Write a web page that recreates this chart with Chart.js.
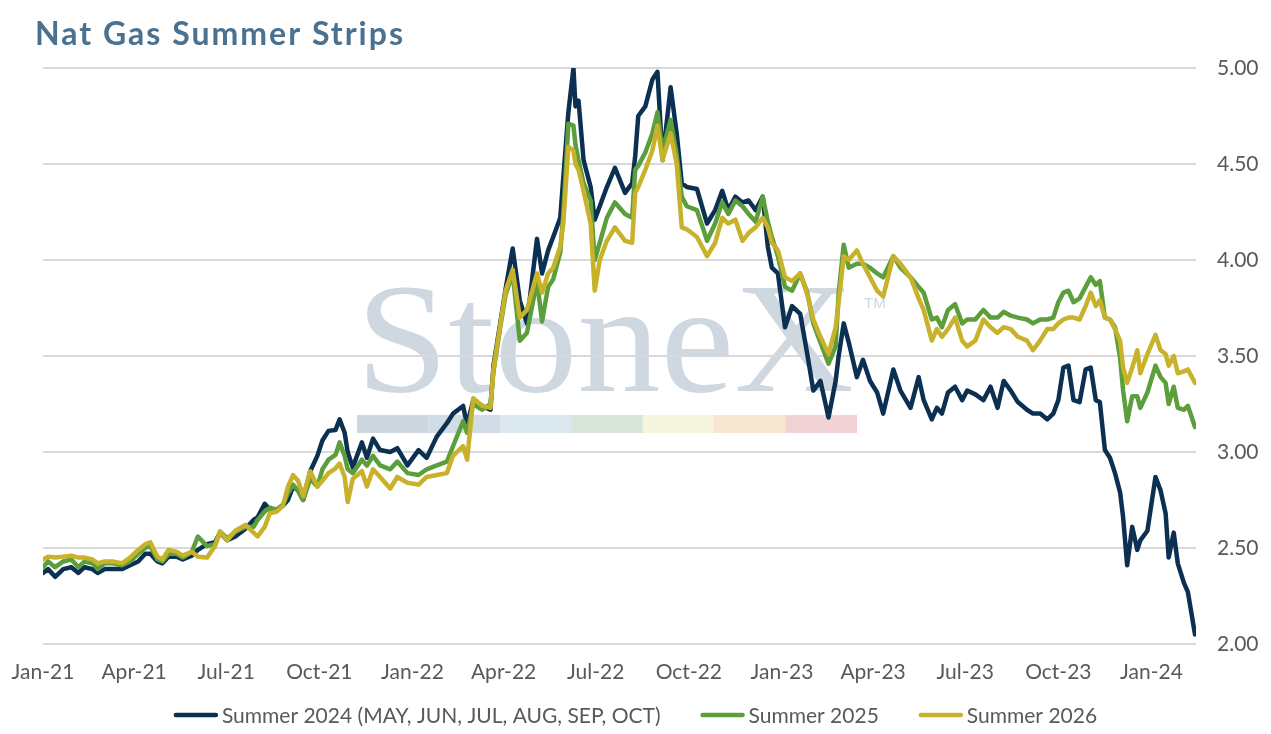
<!DOCTYPE html>
<html>
<head>
<meta charset="utf-8">
<script src="https://cdn.jsdelivr.net/npm/chart.js@4.4.1/dist/chart.umd.min.js"></script>
<style>
  html, body { margin: 0; padding: 0; background: #fff; }
  #wrap { width: 1271px; height: 734px; position: relative; }
</style>
</head>
<body>
<div id="wrap"><canvas id="gasChart"></canvas></div>
<script>
// ===============================
// Data (days counted from 1 Jan 2021)
// ===============================
const days = [
  0, 5, 12, 20, 28, 35, 41, 49, 54, 61, 69, 78, 86, 94, 101, 106, 113, 118, 124, 132,
  138, 147, 153, 162, 170, 175, 182, 190, 200, 208, 212, 219, 224, 231, 237, 242, 247, 252, 257, 264,
  271, 276, 282, 289, 293, 298, 301, 306, 315, 320, 326, 333, 343, 350, 360, 371, 379, 389, 399, 405,
  415, 419, 425, 434, 442, 445, 452, 457, 464, 471, 478, 488, 493, 499, 504, 511, 514, 519, 524, 526,
  529, 534, 541, 545, 550, 557, 565, 575, 582, 585, 588, 595, 602, 607, 612, 620, 626, 631, 636, 646,
  656, 664, 671, 677, 684, 691, 697, 704, 711, 716, 720, 726, 733, 740, 748, 755, 761, 768, 776, 783,
  786, 791, 796, 804, 810, 817, 824, 830, 840, 847, 857, 865, 870, 878, 883, 888, 894, 901, 908, 913,
  921, 929, 936, 943, 949, 956, 963, 972, 978, 985, 992, 998, 1003, 1008, 1013, 1018, 1024, 1030, 1035, 1040,
  1044, 1049, 1054, 1059, 1064, 1067, 1071, 1076, 1081, 1084, 1091, 1099, 1104, 1109, 1112, 1117, 1121, 1127, 1131, 1138
];

const summer2024 = [
  2.37, 2.39, 2.35, 2.39, 2.40, 2.37, 2.40, 2.39, 2.37, 2.39, 2.39, 2.39, 2.41, 2.43, 2.47, 2.47, 2.43, 2.42, 2.455, 2.455,
  2.44, 2.46, 2.49, 2.52, 2.53, 2.58, 2.54, 2.56, 2.60, 2.646, 2.66, 2.73, 2.70, 2.70, 2.72, 2.75, 2.82, 2.80, 2.75, 2.90,
  2.98, 3.06, 3.11, 3.115, 3.17, 3.10, 3.00, 2.92, 3.05, 2.97, 3.07, 3.01, 3.00, 3.02, 2.93, 3.01, 2.97, 3.08, 3.15, 3.20,
  3.24, 3.14, 3.27, 3.24, 3.22, 3.45, 3.68, 3.85, 4.06, 3.79, 3.67, 4.11, 3.93, 4.05, 4.12, 4.22, 4.43, 4.77, 5.00, 4.80,
  4.83, 4.52, 4.38, 4.21, 4.28, 4.38, 4.48, 4.35, 4.40, 4.54, 4.75, 4.80, 4.94, 4.98, 4.52, 4.90, 4.66, 4.40, 4.38, 4.37,
  4.19, 4.26, 4.36, 4.26, 4.33, 4.30, 4.31, 4.26, 4.33, 4.07, 3.96, 3.93, 3.65, 3.76, 3.72, 3.51, 3.32, 3.37, 3.18, 3.37,
  3.50, 3.67, 3.57, 3.39, 3.48, 3.37, 3.31, 3.20, 3.43, 3.32, 3.23, 3.39, 3.27, 3.17, 3.23, 3.20, 3.31, 3.34, 3.27, 3.32,
  3.30, 3.27, 3.34, 3.23, 3.37, 3.32, 3.26, 3.22, 3.20, 3.20, 3.17, 3.20, 3.27, 3.44, 3.45, 3.27, 3.26, 3.43, 3.44, 3.27,
  3.26, 3.01, 2.97, 2.89, 2.79, 2.66, 2.41, 2.61, 2.49, 2.54, 2.59, 2.87, 2.80, 2.68, 2.45, 2.58, 2.42, 2.32, 2.27, 2.05
];

const summer2025 = [
  2.40, 2.43, 2.40, 2.43, 2.44, 2.40, 2.43, 2.42, 2.39, 2.42, 2.42, 2.41, 2.43, 2.47, 2.50, 2.51, 2.44, 2.43, 2.47, 2.47,
  2.45, 2.48, 2.56, 2.51, 2.52, 2.585, 2.55, 2.585, 2.61, 2.61, 2.646, 2.69, 2.71, 2.70, 2.725, 2.785, 2.83, 2.80, 2.75, 2.86,
  2.82, 2.91, 2.96, 2.985, 3.05, 2.98, 2.91, 2.89, 2.96, 2.93, 2.98, 2.93, 2.91, 2.95, 2.89, 2.88, 2.91, 2.93, 2.95, 3.03,
  3.16, 3.10, 3.25, 3.22, 3.25, 3.42, 3.66, 3.82, 3.93, 3.58, 3.62, 3.89, 3.68, 3.86, 3.90, 4.04, 4.24, 4.71, 4.70, 4.60,
  4.52, 4.40, 4.31, 4.00, 4.09, 4.22, 4.30, 4.24, 4.22, 4.47, 4.49, 4.56, 4.66, 4.77, 4.57, 4.73, 4.55, 4.33, 4.28, 4.26,
  4.10, 4.19, 4.30, 4.24, 4.31, 4.28, 4.24, 4.20, 4.33, 4.20, 4.12, 4.02, 3.86, 3.84, 3.93, 3.83, 3.67, 3.57, 3.46, 3.55,
  3.83, 4.08, 3.96, 3.98, 3.98, 3.96, 3.93, 3.91, 4.02, 3.96, 3.91, 3.86, 3.83, 3.69, 3.70, 3.65, 3.74, 3.77, 3.67, 3.69,
  3.69, 3.74, 3.70, 3.70, 3.73, 3.71, 3.70, 3.69, 3.67, 3.69, 3.69, 3.70, 3.78, 3.83, 3.84, 3.78, 3.80, 3.86, 3.91, 3.87,
  3.89, 3.70, 3.69, 3.65, 3.49, 3.32, 3.16, 3.29, 3.29, 3.23, 3.31, 3.45, 3.39, 3.36, 3.25, 3.34, 3.23, 3.22, 3.24, 3.13
];

const summer2026 = [
  2.44, 2.455, 2.45, 2.455, 2.46, 2.45, 2.45, 2.44, 2.42, 2.43, 2.43, 2.42, 2.45, 2.49, 2.52, 2.53, 2.455, 2.44, 2.49, 2.48,
  2.46, 2.48, 2.455, 2.45, 2.51, 2.585, 2.54, 2.59, 2.62, 2.58, 2.56, 2.61, 2.68, 2.69, 2.72, 2.82, 2.88, 2.85, 2.77, 2.90,
  2.82, 2.85, 2.89, 2.915, 2.94, 2.87, 2.74, 2.86, 2.90, 2.82, 2.91, 2.87, 2.81, 2.87, 2.84, 2.83, 2.87, 2.88, 2.89, 2.98,
  3.03, 2.96, 3.28, 3.24, 3.23, 3.43, 3.67, 3.84, 3.95, 3.70, 3.74, 3.93, 3.83, 3.93, 3.96, 4.07, 4.19, 4.59, 4.57, 4.50,
  4.47, 4.36, 4.19, 3.84, 4.00, 4.10, 4.17, 4.10, 4.09, 4.35, 4.38, 4.47, 4.57, 4.70, 4.52, 4.66, 4.50, 4.17, 4.16, 4.12,
  4.02, 4.09, 4.22, 4.19, 4.21, 4.10, 4.14, 4.17, 4.22, 4.17, 4.09, 4.05, 3.91, 3.89, 3.93, 3.82, 3.69, 3.60, 3.51, 3.65,
  3.78, 4.02, 4.00, 4.05, 3.98, 3.91, 3.84, 3.81, 4.02, 3.98, 3.91, 3.80, 3.74, 3.58, 3.64, 3.60, 3.64, 3.70, 3.58, 3.55,
  3.58, 3.69, 3.65, 3.62, 3.65, 3.64, 3.60, 3.58, 3.53, 3.58, 3.64, 3.64, 3.67, 3.69, 3.70, 3.70, 3.69, 3.76, 3.83, 3.76,
  3.79, 3.70, 3.69, 3.64, 3.58, 3.44, 3.36, 3.44, 3.53, 3.41, 3.51, 3.61, 3.53, 3.51, 3.45, 3.50, 3.41, 3.42, 3.43, 3.36
];

const tickDays = [0, 90, 181, 273, 365, 455, 546, 638, 730, 820, 911, 1003, 1095];
const tickLabels = ["Jan-21","Apr-21","Jul-21","Oct-21","Jan-22","Apr-22","Jul-22","Oct-22","Jan-23","Apr-23","Jul-23","Oct-23","Jan-24"];
const seriesNames = ["Summer 2024 (MAY, JUN, JUL, AUG, SEP, OCT)", "Summer 2025", "Summer 2026"];

const toPoints = vals => days.map((d, i) => ({x: d, y: vals[i]}));

// ===============================
// Title + StoneX watermark (behind grid)
// ===============================
const decor = {
    id: "decor",
    beforeDraw(chart){
        const ctx = chart.ctx;
        ctx.save();
        ctx.fillStyle = "#fff";
        ctx.fillRect(0, 0, chart.width, chart.height);

        ctx.fillStyle = "#4a7190";
        ctx.font = "bold 32px Lato";
        ctx.textBaseline = "alphabetic";
        if ("letterSpacing" in ctx) ctx.letterSpacing = "2px";
        ctx.fillText("Nat Gas Summer Strips", 35, 45);
        if ("letterSpacing" in ctx) ctx.letterSpacing = "0px";

        ctx.fillStyle = "#cfd7e0";
        ctx.font = "156px 'Liberation Serif'";
        const w = ctx.measureText("StoneX").width;
        ctx.save();
        ctx.translate(356, 391);
        ctx.scale(498 / w, 1);
        ctx.fillText("StoneX", 0, 0);
        ctx.restore();
        ctx.font = "15px 'Liberation Sans'";
        ctx.fillText("TM", 864, 308);

        const strip = ["#ced6df","#d2dce6","#dde9f1","#d6e4da","#f5f5df","#f7e7d2","#f1d3d6"];
        strip.forEach((c, i) => {
            ctx.fillStyle = c;
            ctx.fillRect(357 + i * 71.4, 415, 71.6, 18);
        });
        ctx.restore();
    }
};

// ===============================
// Line legend under the axis
// ===============================
const lineLegend = {
    id: "lineLegend",
    afterDraw(chart){
        const ctx = chart.ctx;
        ctx.save();
        ctx.font = "21px Lato";
        ctx.textBaseline = "middle";
        const mark = 44, gap = 4, between = 40, y = 715;
        const items = chart.data.datasets.map(ds => ({text: ds.label, color: ds.borderColor, w: ctx.measureText(ds.label).width}));
        const total = items.reduce((s, it) => s + mark + gap + it.w, 0) + between * (items.length - 1);
        let x = (chart.width - total) / 2;
        items.forEach(it => {
            ctx.strokeStyle = it.color;
            ctx.lineWidth = 4.5;
            ctx.lineCap = "round";
            ctx.beginPath();
            ctx.moveTo(x + 2, y);
            ctx.lineTo(x + mark - 2, y);
            ctx.stroke();
            ctx.fillStyle = "#595959";
            ctx.fillText(it.text, x + mark + gap, y + 1);
            x += mark + gap + it.w + between;
        });
        ctx.restore();
    }
};

// ===============================
// Chart
// ===============================
const tickFont = {family: "Lato", size: 21};
const ctxGas = document.getElementById("gasChart").getContext("2d");
const gasChart = new Chart(ctxGas, {
    type: "line",
    data: {
        datasets: [
            {label: seriesNames[0], data: toPoints(summer2024), borderColor: "#0c3052", order: 3},
            {label: seriesNames[1], data: toPoints(summer2025), borderColor: "#5c9e3c", order: 2},
            {label: seriesNames[2], data: toPoints(summer2026), borderColor: "#c8b22c", order: 1}
        ]
    },
    options: {
        responsive: true,
        maintainAspectRatio: false,
        animation: false,
        parsing: false,
        layout: {padding: {left: 43, top: 68, right: 0, bottom: 30}},
        elements: {
            line: {borderWidth: 4.5, tension: 0, borderJoinStyle: "round", borderCapStyle: "round"},
            point: {radius: 0}
        },
        plugins: {
            legend: {display: false},
            tooltip: {enabled: false},
            title: {display: false}
        },
        scales: {
            x: {
                type: "linear",
                min: 0,
                max: 1139,
                afterBuildTicks: s => { s.ticks = tickDays.map(v => ({value: v})); },
                afterFit: s => { s.height = 60; s.paddingLeft = 0; s.paddingRight = 0; },
                ticks: {
                    autoSkip: false,
                    maxRotation: 0,
                    padding: 16,
                    font: tickFont,
                    color: "#595959",
                    callback: (v, i) => tickLabels[i]
                },
                grid: {display: false, drawTicks: false},
                border: {display: false}
            },
            y: {
                position: "right",
                min: 2,
                max: 5,
                afterFit: s => { s.width = 75; },
                ticks: {
                    stepSize: 0.5,
                    padding: 21,
                    font: tickFont,
                    color: "#595959",
                    callback: v => v.toFixed(2)
                },
                grid: {color: "#d9d9d9", lineWidth: 2, drawTicks: false},
                border: {display: false}
            }
        }
    },
    plugins: [decor, lineLegend]
});
</script>
</body>
</html>
